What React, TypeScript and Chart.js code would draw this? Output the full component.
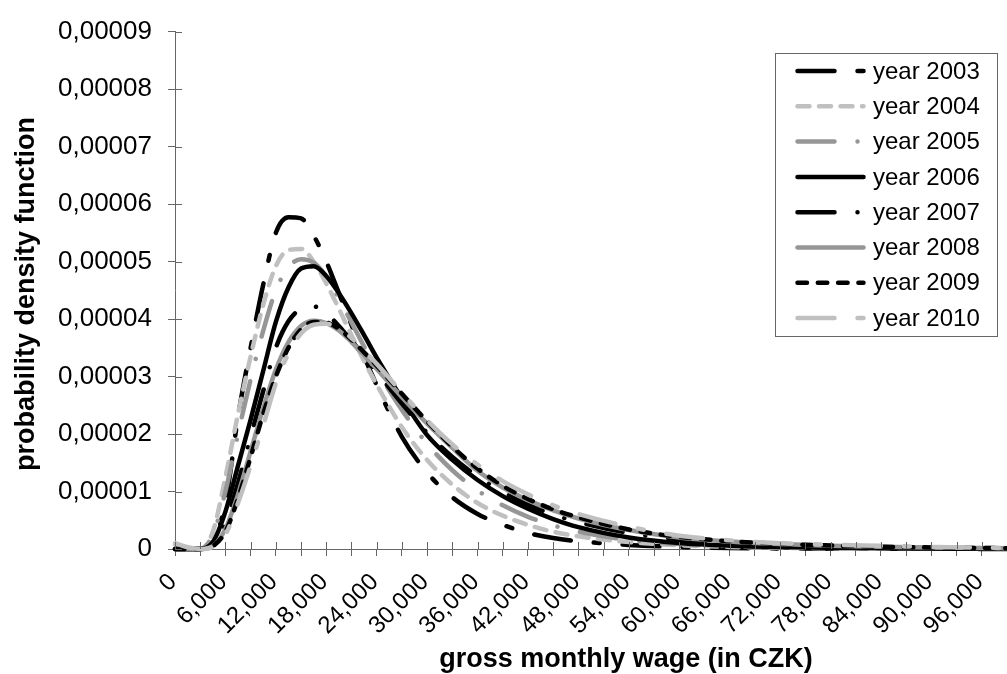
import { useEffect, useRef } from 'react';
import { Chart, registerables } from 'chart.js';

Chart.register(...registerables);

// gross monthly wage (CZK) sample points
const wages = [0, 1500, 3000, 4500, 6000, 7500, 9000, 10500, 12000, 13500, 15000, 16500, 18000, 19500, 21000, 22500, 24000, 27000, 30000, 33000, 36000, 39000, 42000, 45000, 48000, 54000, 60000, 66000, 72000, 78000, 84000, 90000, 96000, 99000];

const years = ['year 2003', 'year 2004', 'year 2005', 'year 2006', 'year 2007', 'year 2008', 'year 2009', 'year 2010'];

// density values, in units of 0.00001
const y2003 = [0, 0, 0, 0.15, 0.8, 2.3, 3.5, 4.6, 5.5, 5.77, 5.75, 5.45, 5.0, 4.45, 3.9, 3.35, 2.85, 1.95, 1.33, 0.9, 0.61, 0.42, 0.28, 0.19, 0.135, 0.07, 0.035, 0.018, 0.01, 0.006, 0.004, 0.003, 0.002, 0.002];
const y2004 = [0.08, 0.02, 0, 0.3, 1.25, 2.35, 3.35, 4.25, 4.92, 5.2, 5.22, 5.0, 4.62, 4.18, 3.72, 3.27, 2.86, 2.12, 1.55, 1.12, 0.8, 0.58, 0.42, 0.3, 0.22, 0.12, 0.065, 0.036, 0.021, 0.013, 0.008, 0.005, 0.003, 0.003];
const y2005 = [0, 0, 0, 0.25, 1.0, 2.0, 2.95, 3.8, 4.5, 4.9, 5.04, 4.98, 4.74, 4.36, 3.94, 3.52, 3.12, 2.42, 1.83, 1.37, 1.02, 0.76, 0.56, 0.41, 0.3, 0.16, 0.085, 0.048, 0.028, 0.017, 0.011, 0.007, 0.005, 0.004];
const y2006 = [0, 0, 0, 0.12, 0.65, 1.45, 2.25, 3.1, 3.95, 4.55, 4.88, 4.92, 4.75, 4.45, 4.1, 3.72, 3.33, 2.62, 1.98, 1.55, 1.2, 0.92, 0.7, 0.52, 0.38, 0.2, 0.105, 0.058, 0.033, 0.02, 0.012, 0.008, 0.005, 0.004];
const y2007 = [0, 0, 0, 0.08, 0.45, 1.15, 1.95, 2.75, 3.5, 3.96, 4.18, 4.22, 4.1, 3.88, 3.62, 3.36, 3.08, 2.53, 2.02, 1.6, 1.26, 0.99, 0.77, 0.6, 0.47, 0.28, 0.17, 0.105, 0.066, 0.043, 0.028, 0.019, 0.013, 0.011];
const y2008 = [0, 0, 0, 0.05, 0.35, 0.95, 1.7, 2.45, 3.12, 3.6, 3.88, 3.97, 3.93, 3.8, 3.6, 3.37, 3.13, 2.64, 2.18, 1.76, 1.36, 1.07, 0.85, 0.67, 0.53, 0.33, 0.2, 0.13, 0.085, 0.055, 0.037, 0.025, 0.017, 0.014];
const y2009 = [0, 0, 0, 0.05, 0.3, 0.88, 1.6, 2.35, 3.0, 3.5, 3.82, 3.95, 3.94, 3.83, 3.64, 3.42, 3.19, 2.7, 2.22, 1.78, 1.4, 1.1, 0.87, 0.69, 0.55, 0.34, 0.21, 0.135, 0.09, 0.06, 0.04, 0.027, 0.018, 0.015];
const y2010 = [0.1, 0.03, 0, 0.04, 0.25, 0.8, 1.45, 2.15, 2.88, 3.4, 3.75, 3.9, 3.92, 3.84, 3.67, 3.45, 3.22, 2.72, 2.24, 1.82, 1.47, 1.18, 0.95, 0.76, 0.61, 0.39, 0.23, 0.15, 0.1, 0.075, 0.055, 0.035, 0.022, 0.018];

const series = [y2003, y2004, y2005, y2006, y2007, y2008, y2009, y2010];

// axis settings
const X_MAX = 99000;
const X_TICK_STEP = 3000;
const X_LABEL_STEP = 6000;
const Y_MAX = 0.00009;
const Y_TICK_STEP = 0.00001;

const BLACK = '#000000';
const LIGHT = '#c0c0c0';
const MID = '#969696';
const colors = [BLACK, LIGHT, MID, BLACK, BLACK, MID, BLACK, LIGHT];
const LONG_SHORT = [37, 23, 6, 23];
const LONG_DOT = [37, 23, 0.01, 23];
const dashes = [LONG_SHORT, [12, 9.5], LONG_DOT, [], LONG_DOT, [], [9.5, 10.8], LONG_SHORT];

const FONT = "'Liberation Sans', Arial, Helvetica, sans-serif";
const AXIS_COLOR = '#666666';
const RIGHT_OVERHANG = 7; // plot area runs slightly past the canvas edge, as in the original

const fmtThousands = (v: number) => String(v).replace(/\B(?=(\d{3})+(?!\d))/g, ',');

const crossTicks = {
  id: 'crossTicks',
  afterDraw(chart: any) {
    const { ctx, chartArea } = chart;
    const xs = chart.scales.x;
    const ys = chart.scales.y;
    ctx.save();
    ctx.strokeStyle = AXIS_COLOR;
    ctx.lineWidth = 1;
    ctx.beginPath();
    ys.ticks.forEach((t: any) => {
      const py = Math.round(ys.getPixelForValue(t.value)) + 0.5;
      ctx.moveTo(chartArea.left, py);
      ctx.lineTo(chartArea.left + 7, py);
    });
    xs.ticks.forEach((t: any) => {
      const px = Math.round(xs.getPixelForValue(t.value)) + 0.5;
      ctx.moveTo(px, chartArea.bottom);
      ctx.lineTo(px, chartArea.bottom - 7);
    });
    ctx.stroke();
    ctx.restore();
  },
};

const legendAndTitles = {
  id: 'legendAndTitles',
  afterDraw(chart: any) {
    const { ctx } = chart;
    ctx.save();
    // axis titles
    ctx.fillStyle = '#000';
    ctx.font = `bold 27px ${FONT}`;
    ctx.textAlign = 'center';
    ctx.textBaseline = 'middle';
    ctx.fillText('gross monthly wage (in CZK)', 626, 660);
    ctx.save();
    ctx.translate(27, 294);
    ctx.rotate(-Math.PI / 2);
    ctx.fillText('probability density function', 0, 0);
    ctx.restore();

    // legend box
    ctx.strokeStyle = AXIS_COLOR;
    ctx.lineWidth = 1;
    ctx.strokeRect(775.5, 53.5, 222, 283);
    ctx.font = `24px ${FONT}`;
    ctx.textAlign = 'left';
    chart.data.datasets.forEach((ds: any, i: number) => {
      const y = 71 + i * 35.3;
      ctx.save();
      ctx.strokeStyle = ds.borderColor;
      ctx.lineWidth = ds.borderWidth;
      ctx.lineCap = 'round';
      ctx.setLineDash(ds.borderDash || []);
      ctx.beginPath();
      ctx.moveTo(797.5, y);
      ctx.lineTo(863.5, y);
      ctx.stroke();
      ctx.restore();
      ctx.fillStyle = '#000';
      ctx.fillText(ds.label, 873, y + 1);
    });
    ctx.restore();
  },
};

export default function App() {
  const ref = useRef<HTMLCanvasElement>(null);

  useEffect(() => {
    const canvas = ref.current;
    if (!canvas) return;
    const chart = new Chart(canvas, {
      type: 'line',
      data: {
        datasets: series.map((s, i) => ({
          label: years[i],
          data: wages.map((w, j) => ({ x: w, y: s[j] * 1e-5 })),
          borderColor: colors[i],
          backgroundColor: colors[i],
          borderWidth: 4.5,
          borderDash: dashes[i],
          borderCapStyle: 'round',
          borderJoinStyle: 'round',
          pointRadius: 0,
          pointHoverRadius: 0,
          cubicInterpolationMode: 'monotone',
          fill: false,
          clip: false,
          order: series.length - 1 - i,
        })) as any,
      },
      options: {
        responsive: false,
        animation: false,
        events: [],
        layout: { padding: { top: 24, right: -RIGHT_OVERHANG, bottom: 0, left: 0 } },
        plugins: {
          legend: { display: false },
          tooltip: { enabled: false },
          title: { display: false },
        },
        scales: {
          x: {
            type: 'linear',
            min: 0,
            max: X_MAX,
            border: { display: true, color: AXIS_COLOR, width: 1 },
            grid: { drawOnChartArea: false, drawTicks: true, tickLength: 7, color: AXIS_COLOR },
            ticks: {
              stepSize: X_TICK_STEP,
              autoSkip: false,
              minRotation: 45,
              maxRotation: 45,
              padding: 12,
              labelOffset: -2,
              color: '#000',
              font: { family: FONT, size: 24 },
              callback: (v: any) => {
                const val = Math.round(Number(v));
                return val % X_LABEL_STEP === 0 && val < X_MAX ? fmtThousands(val) : '';
              },
            },
            afterFit: (scale: any) => {
              scale.height = 125;
              scale.paddingLeft = 0;
              scale.paddingRight = -RIGHT_OVERHANG;
            },
          },
          y: {
            type: 'linear',
            min: 0,
            max: Y_MAX,
            border: { display: true, color: AXIS_COLOR, width: 1 },
            grid: { drawOnChartArea: false, drawTicks: true, tickLength: 7, color: AXIS_COLOR },
            ticks: {
              stepSize: Y_TICK_STEP,
              padding: 16,
              color: '#000',
              font: { family: FONT, size: 26 },
              callback: (v: any) => (Number(v) === 0 ? '0' : Number(v).toFixed(5).replace('.', ',')),
            },
            afterFit: (scale: any) => {
              scale.width = 175;
            },
          },
        },
      },
      plugins: [crossTicks, legendAndTitles],
    });
    return () => chart.destroy();
  }, []);

  return (
    <div style={{ position: 'fixed', left: 0, top: 0, width: 1007, height: 674, background: '#fff' }}>
      <canvas ref={ref} width={1007} height={674} style={{ display: 'block' }} />
    </div>
  );
}
